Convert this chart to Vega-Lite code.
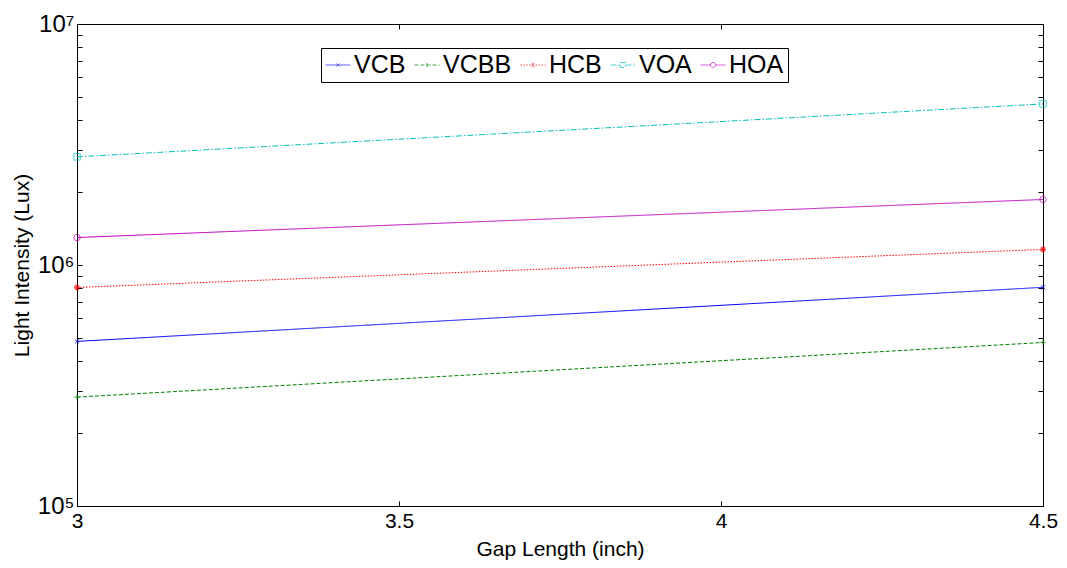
{
  "$schema": "https://vega.github.io/schema/vega-lite/v6.json",
  "width": 966,
  "height": 482,
  "autosize": "none",
  "padding": {"left": 77, "top": 24, "right": 24, "bottom": 62},
  "background": "white",
  "config": {
    "view": {"stroke": "black", "strokeWidth": 1},
    "font": "Liberation Sans",
    "axis": {"domainColor": "black", "tickColor": "black", "labelColor": "black", "titleColor": "black", "grid": false, "labelFont": "Liberation Sans", "titleFont": "Liberation Sans", "titleFontWeight": "normal"}
  },
  "data": {
    "values": [
      {"gap": 3, "lux": 482000, "series": "VCB"},
      {"gap": 4.5, "lux": 808000, "series": "VCB"},
      {"gap": 3, "lux": 283000, "series": "VCBB"},
      {"gap": 4.5, "lux": 477000, "series": "VCBB"},
      {"gap": 3, "lux": 807000, "series": "HCB"},
      {"gap": 4.5, "lux": 1160000, "series": "HCB"},
      {"gap": 3, "lux": 2810000, "series": "VOA"},
      {"gap": 4.5, "lux": 4660000, "series": "VOA"},
      {"gap": 3, "lux": 1300000, "series": "HOA"},
      {"gap": 4.5, "lux": 1870000, "series": "HOA"}
    ]
  },
  "resolve": {
    "axis": {"x": "independent", "y": "independent"},
    "scale": {"color": "independent", "strokeDash": "independent", "shape": "independent"}
  },
  "layer": [
    {
      "mark": {"type": "line", "strokeWidth": 1, "clip": true},
      "encoding": {
        "x": {"field": "gap", "type": "quantitative", "scale": {"domain": [3, 4.5], "nice": false, "zero": false},
          "axis": {"orient": "bottom", "values": [3, 3.5, 4, 4.5], "format": "~g", "tickSize": -5, "labelFontSize": 21, "labelPadding": 9, "title": "Gap Length (inch)", "titleFontSize": 21, "titlePadding": 7, "labelFlush": false}},
        "y": {"field": "lux", "type": "quantitative", "scale": {"type": "log", "domain": [100000, 10000000], "nice": false},
          "axis": {"orient": "left", "values": [100000, 200000, 300000, 400000, 500000, 600000, 700000, 800000, 900000, 1000000, 2000000, 3000000, 4000000, 5000000, 6000000, 7000000, 8000000, 9000000, 10000000],
            "labelExpr": "datum.value == 100000 ? '10⁵' : datum.value == 1000000 ? '10⁶' : datum.value == 10000000 ? '10⁷' : ''",
            "tickSize": -5, "labelFontSize": 24, "labelPadding": 8, "title": "Light Intensity (Lux)", "titleFontSize": 21, "titlePadding": 5, "labelFlush": false}},
        "color": {"field": "series", "type": "nominal", "scale": {"domain": ["VCB", "VCBB", "HCB", "VOA", "HOA"], "range": ["#0000FF", "#008000", "#FF0000", "#00BFBF", "#BF00BF"]}, "legend": null},
        "strokeDash": {"field": "series", "type": "nominal", "scale": {"domain": ["VCB", "VCBB", "HCB", "VOA", "HOA"], "range": [[1, 0], [4, 2], [1.5, 1.5], [6, 2, 1.5, 2], [1, 0]]}, "legend": null}
      }
    },
    {
      "transform": [{"filter": "datum.series == 'VCB'"}],
      "mark": {"type": "point", "shape": "M-1,-1L1,1M-1,1L1,-1", "size": 20, "strokeWidth": 1, "filled": false, "color": "#0000FF"},
      "encoding": {
        "x": {"field": "gap", "type": "quantitative", "axis": null},
        "y": {"field": "lux", "type": "quantitative", "axis": null}
      }
    },
    {
      "transform": [{"filter": "datum.series == 'VCBB'"}],
      "mark": {"type": "point", "shape": "M-1,0H1M0,-1V1", "size": 30, "strokeWidth": 1, "filled": false, "color": "#008000"},
      "encoding": {
        "x": {"field": "gap", "type": "quantitative", "axis": null},
        "y": {"field": "lux", "type": "quantitative", "axis": null}
      }
    },
    {
      "transform": [{"filter": "datum.series == 'HCB'"}],
      "mark": {"type": "point", "shape": "M-1,0H1M0,-1V1M-0.7,-0.7L0.7,0.7M-0.7,0.7L0.7,-0.7", "size": 36, "strokeWidth": 1.5, "filled": false, "color": "#FF0000"},
      "encoding": {
        "x": {"field": "gap", "type": "quantitative", "axis": null},
        "y": {"field": "lux", "type": "quantitative", "axis": null}
      }
    },
    {
      "transform": [{"filter": "datum.series == 'VOA'"}],
      "mark": {"type": "point", "shape": "square", "size": 42, "strokeWidth": 1, "filled": false, "color": "#00BFBF"},
      "encoding": {
        "x": {"field": "gap", "type": "quantitative", "axis": null},
        "y": {"field": "lux", "type": "quantitative", "axis": null}
      }
    },
    {
      "transform": [{"filter": "datum.series == 'HOA'"}],
      "mark": {"type": "point", "shape": "circle", "size": 42, "strokeWidth": 1, "filled": false, "color": "#BF00BF"},
      "encoding": {
        "x": {"field": "gap", "type": "quantitative", "axis": null},
        "y": {"field": "lux", "type": "quantitative", "axis": null}
      }
    },
    {
      "transform": [{"filter": "false"}],
      "mark": {"type": "point", "filled": false, "strokeWidth": 1},
      "encoding": {
        "x": {"field": "gap", "type": "quantitative",
          "axis": {"orient": "top", "values": [3, 3.5, 4, 4.5], "labels": false, "tickSize": -5, "title": null, "domain": false}},
        "y": {"field": "lux", "type": "quantitative",
          "axis": {"orient": "right", "values": [100000, 200000, 300000, 400000, 500000, 600000, 700000, 800000, 900000, 1000000, 2000000, 3000000, 4000000, 5000000, 6000000, 7000000, 8000000, 9000000, 10000000], "labels": false, "tickSize": -5, "title": null, "domain": false}},
        "color": {"field": "series", "type": "nominal", "title": null,
          "scale": {"domain": ["VCB", "VCBB", "HCB", "VOA", "HOA"], "range": ["#0000FF", "#008000", "#FF0000", "#00BFBF", "#BF00BF"]},
          "legend": {"orient": "none", "legendX": 244, "legendY": 24, "direction": "horizontal", "title": null,
            "strokeColor": "black", "fillColor": "white", "padding": 4, "labelFontSize": 25, "labelFont": "Liberation Sans", "labelColor": "black",
            "symbolSize": 625, "symbolStrokeWidth": 1, "labelOffset": 3, "columnPadding": 6, "cornerRadius": 0}},
        "strokeDash": {"field": "series", "type": "nominal", "title": null,
          "scale": {"domain": ["VCB", "VCBB", "HCB", "VOA", "HOA"], "range": [[1, 0], [4, 2], [1.5, 1.5], [6, 2, 1.5, 2], [1, 0]]}},
        "shape": {"field": "series", "type": "nominal", "title": null,
          "scale": {"domain": ["VCB", "VCBB", "HCB", "VOA", "HOA"],
            "range": [
              "M-1,0H1M-0.12,-0.12L0.12,0.12M-0.12,0.12L0.12,-0.12",
              "M-1,0H1M0,-0.16V0.16",
              "M-1,0H1M0,-0.16V0.16M-0.12,-0.12L0.12,0.12M-0.12,0.12L0.12,-0.12",
              "M-1,0H-0.2M0.2,0H1M-0.2,-0.2H0.2V0.2H-0.2Z",
              "M-1,0H-0.2M0.2,0H1M-0.2,0A0.2,0.2,0,1,1,0.2,0A0.2,0.2,0,1,1,-0.2,0"
            ]}}
      }
    }
  ]
}
